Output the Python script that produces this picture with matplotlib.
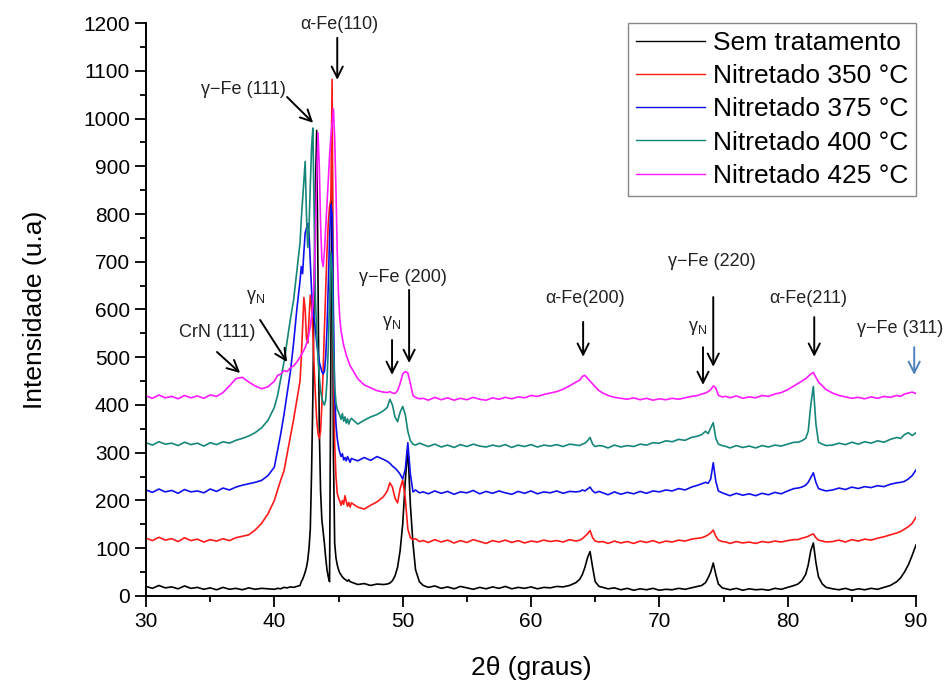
import matplotlib
matplotlib.use('Agg')
import matplotlib.pyplot as plt
from matplotlib.ticker import MultipleLocator

plt.rcParams['font.family'] = ['Liberation Sans', 'DejaVu Sans']
plt.rcParams['mathtext.fontset'] = 'custom'
plt.rcParams['mathtext.rm'] = 'Liberation Sans'

two_theta = [
    30.0, 30.5, 31.0, 31.5, 32.0, 32.5, 33.0, 33.5, 34.0, 34.5,
    35.0, 35.5, 36.0, 36.5, 37.0, 37.5, 38.0, 38.5, 39.0, 39.5,
    40.0, 40.25, 40.5, 40.75, 41.0, 41.25, 41.5, 41.75,
    42.0, 42.1, 42.2, 42.3, 42.4, 42.5, 42.6, 42.7, 42.8, 42.9,
    43.0, 43.1, 43.2, 43.3, 43.4, 43.5, 43.6, 43.7, 43.8, 43.9,
    44.0, 44.1, 44.2, 44.3, 44.4, 44.5, 44.6, 44.7, 44.8, 44.9,
    45.0, 45.1, 45.2, 45.3, 45.4, 45.5, 45.6, 45.7, 45.8, 45.9,
    46.0, 46.5, 47.0, 47.5, 48.0, 48.5,
    48.8, 49.0, 49.2, 49.4, 49.6, 49.8, 50.0, 50.2, 50.4, 50.6, 50.8, 51.0, 51.3,
    51.6, 52.0, 52.5, 53.0, 53.5, 54.0, 54.5, 55.0, 55.5, 56.0, 56.5, 57.0, 57.5,
    58.0, 58.5, 59.0, 59.5, 60.0, 60.5, 61.0, 61.5, 62.0, 62.5, 63.0, 63.5,
    63.8, 64.0, 64.2, 64.4, 64.6, 64.8, 65.0, 65.3,
    65.6, 66.0, 66.5, 67.0, 67.5, 68.0, 68.5, 69.0, 69.5, 70.0, 70.5, 71.0, 71.5, 72.0, 72.5, 73.0,
    73.3, 73.6, 73.8, 74.0, 74.2, 74.4, 74.6, 74.9,
    75.2, 75.5, 76.0, 76.5, 77.0, 77.5, 78.0, 78.5, 79.0, 79.5, 80.0, 80.5,
    80.8, 81.1, 81.4, 81.6, 81.8, 82.0, 82.2, 82.4, 82.7, 83.0,
    83.5, 84.0, 84.5, 85.0, 85.5, 86.0, 86.5, 87.0, 87.5, 88.0, 88.5,
    88.8, 89.1, 89.4, 89.7, 90.0,
]

sem_tratamento = [
    20, 16, 22, 17, 19, 15, 21, 16, 18, 14, 17, 13, 18, 14, 16, 13, 17, 14, 16, 15,
    14, 16, 15, 18, 17, 19, 18, 20,
    22, 30, 35, 42, 50, 60, 75, 100, 140, 260,
    420, 650, 850, 975, 650, 350, 220, 160, 135, 110,
    80, 55, 40, 30, 500, 965, 300, 110, 80, 65,
    55, 48, 44, 40, 37, 35, 33, 31, 34, 30,
    29, 24, 26, 22, 25, 24,
    25, 27, 32, 42, 60, 95, 150, 240, 310, 190, 110, 55, 30,
    22, 18, 21, 16, 19, 15, 20, 17, 14, 18, 15, 19, 16,
    20, 15, 18, 16, 19, 15, 18, 17, 20, 19, 22, 28,
    35, 45, 60, 80, 93, 60, 30, 20,
    18, 15, 17, 13, 16, 12, 15, 13, 16, 12, 14, 13, 16, 14, 17, 20,
    22, 28, 38, 50, 69, 45, 25, 17,
    15, 13, 16, 12, 15, 13, 14, 12, 16, 14, 18, 22,
    25, 32, 45, 65, 95, 111, 70, 40, 25, 18,
    15, 13, 16, 12, 15, 13, 16, 14, 18, 22, 30,
    38, 50, 65, 85, 107,
]

nitretado_350 = [
    121, 116, 123, 117, 120, 114, 122, 116, 119, 113, 118, 115, 120, 116, 122, 125, 128, 138, 152, 172,
    200, 222, 243, 262, 298, 335, 370, 410,
    450, 500, 560, 625, 600, 540, 530, 580, 630, 610,
    550, 480, 420, 370, 340, 330, 345, 400, 470, 560,
    640, 720, 780, 815, 830, 1082, 500, 320, 250, 215,
    205, 198, 190, 200, 192, 210, 198, 188, 196, 186,
    195, 186, 182, 190, 197, 208,
    220, 237, 228, 205, 195, 225, 243, 205, 140, 122, 118, 120, 114,
    116, 112, 118, 113, 117, 111, 116, 112, 118, 114, 110, 116, 113,
    117, 112, 116, 111, 115, 113, 117, 114, 116, 113, 118, 115,
    117, 120, 125, 130, 137, 122, 115, 113,
    114, 110, 115, 111, 114, 110, 115, 112, 116, 111, 115, 113, 117, 115, 119, 121,
    122, 125, 128, 132, 138, 125, 117, 114,
    113, 110, 114, 111, 113, 110, 114, 112, 115, 113, 116, 118,
    118, 121, 123, 125, 128, 130, 122, 117, 115, 113,
    114, 117, 113, 118, 115, 119, 117, 121, 124, 128, 132,
    135, 140, 145, 152, 165,
]

nitretado_375 = [
    222, 217, 224, 218, 221, 215, 223, 218, 220, 216, 224, 219, 226, 222, 228, 232, 235, 238, 242, 252,
    270, 305, 340, 380, 425, 470, 530, 600,
    660, 690, 675, 720, 760, 770, 780, 760, 700, 640,
    600, 580, 560, 530, 510, 490, 480, 470, 465, 470,
    500, 560, 650, 750, 820, 800, 600, 420, 360, 330,
    312, 300, 292, 298, 285, 290, 283, 292, 286, 280,
    288, 283, 290, 284, 292, 286,
    282, 278, 272, 268, 262, 255, 245, 265, 321, 255, 218, 222, 216,
    218, 214, 220, 215, 219, 213, 218, 216, 221, 214, 219, 215, 220,
    216, 213, 219, 215, 220, 214, 218, 216, 220, 215, 219, 218,
    219, 222, 220, 224, 228, 220, 216, 219,
    216, 212, 218, 213, 217, 214, 219, 215, 220, 218, 222, 220, 225, 222, 228, 232,
    235, 238, 236, 245, 279, 240, 220, 216,
    213, 210, 215, 211, 214, 210, 215, 212, 217, 214, 220, 225,
    226, 228, 232, 238, 248, 258, 238, 225, 222, 220,
    222, 226, 223, 228, 225, 229, 227, 231, 229, 234, 237,
    238, 240, 245, 252, 264,
]

nitretado_400 = [
    321, 316, 323, 318, 320, 315, 322, 317, 320, 314, 321, 317, 323, 320, 326, 330, 335, 342, 352, 368,
    395, 420, 455, 490, 535, 580, 620, 680,
    740, 790, 830, 870, 910, 800, 730, 770, 860, 940,
    980, 800, 620, 550, 500, 460, 430, 415, 405, 400,
    410, 450, 520, 620, 720, 680, 520, 440, 405, 390,
    385, 378, 370, 382, 366, 375, 362, 371, 360, 368,
    372, 360, 368, 375, 380, 388,
    395, 412, 400, 375, 365, 385, 397, 380, 345, 325, 318, 316, 320,
    317, 313, 318, 312, 316, 311, 317, 313, 318, 314, 312, 316, 313,
    317, 311, 316, 313, 317, 312, 316, 314, 317, 313, 318, 316,
    315, 318, 320, 325, 332, 318, 313, 315,
    314, 310, 316, 312, 315, 313, 318, 316, 321, 320, 325, 323, 328, 326, 332, 335,
    338, 345, 340, 352, 363, 330, 318, 315,
    313, 310, 315, 311, 314, 310, 315, 312, 316, 314, 318, 322,
    322, 325, 330, 345, 400, 439, 360, 322, 318, 315,
    316, 320, 317, 322, 318, 323, 320, 325, 322, 328, 332,
    330, 338, 342, 336, 342,
]

nitretado_425 = [
    419, 414, 421, 415, 418, 413, 420, 415, 419, 414, 421, 418, 426, 440, 455, 458, 448, 440, 434, 438,
    450, 462, 465, 472, 470, 478, 482, 490,
    500, 505, 510, 515, 520, 528, 535, 550, 565, 585,
    610, 660, 750, 880, 970, 900, 780, 705, 690, 720,
    770, 820, 870, 920, 960, 990, 1020, 960, 850, 720,
    630, 580, 555, 540, 525, 515, 505, 497, 490, 482,
    478, 455, 442, 436, 430, 427,
    426, 428, 425, 424, 430, 445, 465, 470, 467, 445, 420, 416, 413,
    414, 410, 416, 411, 415, 410, 414, 411, 416, 412, 410, 415, 412,
    416, 413, 417, 415, 420, 418, 422, 425, 428, 433, 440, 448,
    452, 460, 462, 456, 450, 444, 438, 430,
    425, 420, 416, 414, 412, 415, 411, 414, 410, 413, 411, 414, 412, 415, 418, 420,
    423, 425, 428, 432, 440, 436, 420, 417,
    418, 415, 419, 414, 417, 415, 420, 418, 423, 426, 432, 440,
    445, 450, 455, 460, 465, 468, 458, 448, 440, 432,
    425, 420, 417, 414, 416, 413, 417, 414, 418, 416, 420,
    418, 423, 425, 427, 424,
]

series = [sem_tratamento, nitretado_350, nitretado_375, nitretado_400, nitretado_425]
labels = ['Sem tratamento', 'Nitretado 350 °C', 'Nitretado 375 °C',
          'Nitretado 400 °C', 'Nitretado 425 °C']
colors = ['black', '#ff1a1a', '#1010ee', '#16867a', '#ff1aff']

for s in series:
    assert len(s) == len(two_theta), len(s)

fig = plt.figure(figsize=(9.52, 6.87), dpi=100)
ax = fig.add_axes([0.1534, 0.1325, 0.8088, 0.834])

for ys, lab, c in zip(series, labels, colors):
    ax.plot(two_theta, ys, color=c, lw=1.2, label=lab)

ax.set_xlim(30, 90)
ax.set_ylim(0, 1200)
ax.xaxis.set_major_locator(MultipleLocator(10))
ax.xaxis.set_minor_locator(MultipleLocator(5))
ax.yaxis.set_major_locator(MultipleLocator(100))
ax.yaxis.set_minor_locator(MultipleLocator(50))
ax.tick_params(which='major', direction='out', length=8, width=1.3, labelsize=15)
ax.tick_params(which='minor', direction='out', length=4.5, width=1.3)
for side in ['top', 'right']:
    ax.spines[side].set_visible(False)
for side in ['left', 'bottom']:
    ax.spines[side].set_linewidth(1.4)

ax.set_xlabel('2θ (graus)', fontsize=19, labelpad=18)
ax.set_ylabel('Intensidade (u.a)', fontsize=19, labelpad=26)

leg = ax.legend(loc='upper right', bbox_to_anchor=(1.0, 1.0), borderaxespad=0,
                fontsize=19, handlelength=2.6, labelspacing=0.35,
                borderpad=0.3, handletextpad=0.3, fancybox=False,
                edgecolor='#888888', framealpha=1)
leg.get_frame().set_linewidth(1.0)
for h in leg.get_lines():
    h.set_linewidth(1.0)

# peak labels: text, text position, arrow tail, arrow head
gn = r'γ$_{\rm N}$'
peaks = [
    ('α-Fe(110)', (45.04, 1196), (44.9, 1169), (44.9, 1081)),
    ('γ−Fe (111)', (37.56, 1060), (40.99, 1045), (43.02, 991)),
    (gn, (38.5, 626), (38.89, 578), (40.99, 490)),
    ('CrN (111)', (35.53, 551), (35.53, 511), (37.33, 467)),
    ('γ−Fe (200)', (50.0, 668), (50.5, 641), (50.5, 488)),
    (gn, (49.17, 572), (49.17, 536), (49.17, 463)),
    ('α-Fe(200)', (64.2, 624), (64.06, 574), (64.06, 501)),
    ('γ−Fe (220)', (74.1, 700), (74.2, 626), (74.2, 480)),
    (gn, (73.0, 561), (73.4, 521), (73.4, 442)),
    ('α-Fe(211)', (81.6, 624), (82.07, 584), (82.07, 501)),
    ('γ−Fe (311)', (88.8, 561), (89.86, 521), (89.86, 463)),
]
for i, (txt, tpos, tail, head) in enumerate(peaks):
    ax.text(tpos[0], tpos[1], txt, fontsize=13, ha='center', va='center',
            color='#222222', clip_on=False)
    acol = '#4f81bd' if i == len(peaks) - 1 else 'black'
    ax.annotate('', xy=head, xytext=tail, annotation_clip=False,
                arrowprops=dict(arrowstyle='->', color=acol, lw=1.4,
                                mutation_scale=20, shrinkA=0, shrinkB=0))

fig.savefig('out.png', dpi=100)
